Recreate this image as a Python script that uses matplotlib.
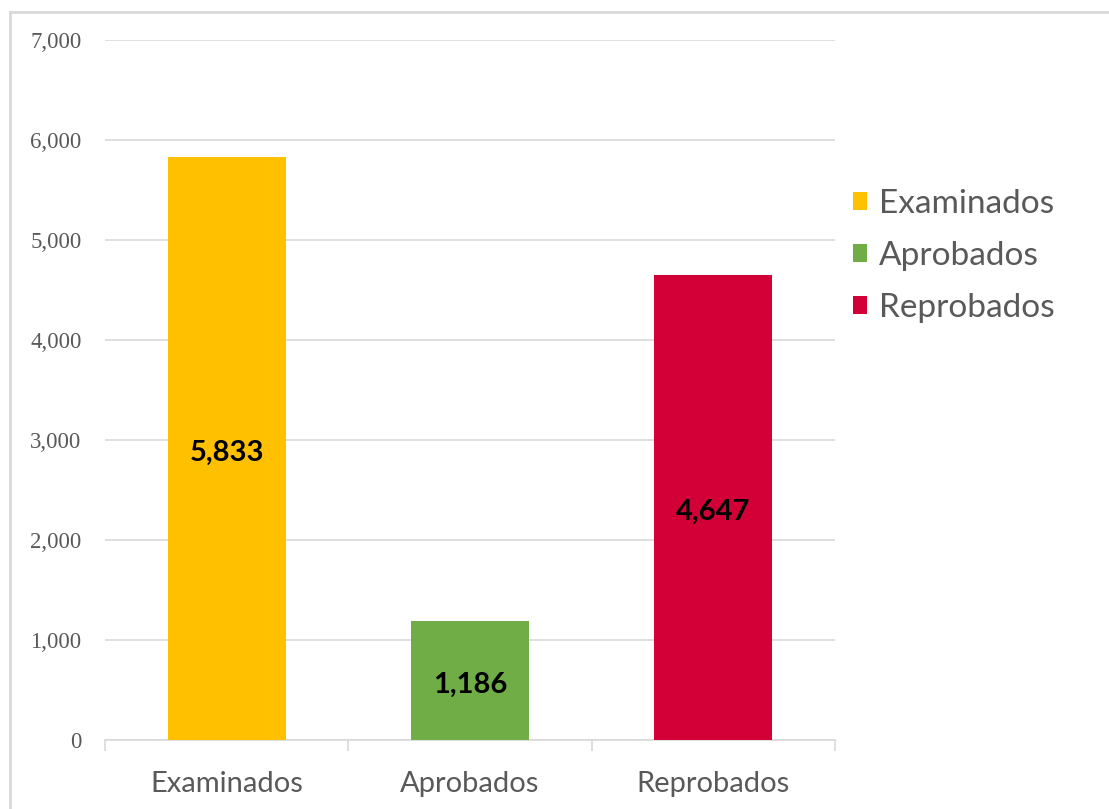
import matplotlib
matplotlib.use("Agg")
import matplotlib.pyplot as plt
from matplotlib.patches import Patch
from matplotlib.lines import Line2D
from matplotlib.ticker import FuncFormatter, FixedLocator

categories = ["Examinados", "Aprobados", "Reprobados"]
values = [5833, 1186, 4647]
colors = ["#FFC000", "#70AD47", "#D20036"]
yticks = [0, 1000, 2000, 3000, 4000, 5000, 6000, 7000]

W, H = 1109, 809
fig = plt.figure(figsize=(W / 100, H / 100), dpi=100)
fig.patch.set_facecolor("white")

ax = fig.add_axes([105 / W, 1 - 740 / H, (835 - 105) / W, (740 - 40) / H])
x = list(range(len(categories)))
bars = ax.bar(x, values, width=0.485, color=colors, zorder=3)

ax.set_xlim(-0.5, len(categories) - 0.5)
ax.set_ylim(0, 7000)
ax.set_yticks(yticks)
ax.yaxis.set_major_formatter(FuncFormatter(lambda v, p: f"{int(v):,}"))
ax.grid(axis="y", color="#D9D9D9", linewidth=1.2, zorder=0)
ax.set_axisbelow(True)

for s in ["top", "right", "left"]:
    ax.spines[s].set_visible(False)
ax.spines["bottom"].set_color("#D9D9D9")
ax.spines["bottom"].set_linewidth(1.2)

ax.set_xticks(x)
ax.set_xticklabels(categories, fontsize=21, color="#595959", family=["Lato", "DejaVu Sans"])
ax.tick_params(axis="x", which="major", length=0, pad=22)
ax.xaxis.set_minor_locator(FixedLocator([-0.5, 0.5, 1.5, 2.5]))
ax.tick_params(axis="x", which="minor", length=8, color="#D9D9D9", width=1.2)
ax.tick_params(axis="y", length=0, pad=17, labelsize=16.5, labelcolor="#595959")
for t in ax.get_yticklabels():
    t.set_family(["Liberation Serif", "DejaVu Serif"])

for xi, v in zip(x, values):
    ax.annotate(f"{v:,}", (xi, v / 2), xytext=(0, -3), textcoords="offset points",
                ha="center", va="center", fontsize=21, fontweight="bold",
                color="black", family=["Lato", "DejaVu Sans"], zorder=4)

handles = [Patch(facecolor=c, edgecolor="none") for c in colors]
leg = fig.legend(handles, categories, loc="upper left",
                 bbox_to_anchor=(853 / W, 1 - 189 / H), frameon=False,
                 borderaxespad=0, borderpad=0,
                 prop={"family": ["Lato", "DejaVu Sans"], "size": 24},
                 handlelength=0.42, handleheight=0.42, handletextpad=0.36,
                 labelspacing=0.66)
for t in leg.get_texts():
    t.set_color("#595959")

fig.add_artist(Line2D([10 / W, 1], [1 - 12 / H, 1 - 12 / H], color="#D9D9D9", linewidth=2))
fig.add_artist(Line2D([10 / W, 10 / W], [0, 1 - 12 / H], color="#D9D9D9", linewidth=2))

fig.savefig("out.png", dpi=100)
